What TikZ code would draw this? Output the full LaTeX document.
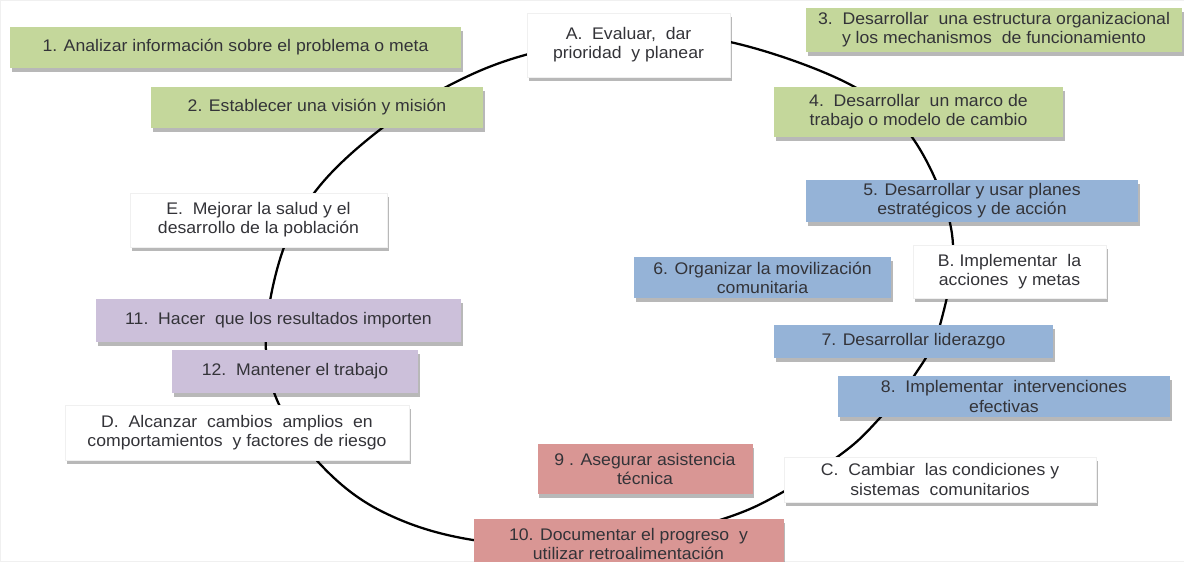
\documentclass[tikz,border=0pt]{standalone}
\usepackage{fontspec}
\setmainfont{Liberation Sans}[FakeStretch=1.05]
\usetikzlibrary{shadows}
\definecolor{gbox}{HTML}{C4D79B}
\definecolor{bbox}{HTML}{95B3D7}
\definecolor{pbox}{HTML}{CCC0DA}
\definecolor{rbox}{HTML}{D99694}
\definecolor{txt}{HTML}{333338}
\tikzset{
  card/.style 2 args={rectangle, inner sep=0pt, align=center, text=txt,
    minimum width=#1*0.75pt, minimum height=#2*0.75pt,
    font=\fontsize{12.6pt}{14.3pt}\selectfont,
    drop shadow={shadow xshift=1.2pt, shadow yshift=-3pt, fill=black, opacity=0.28}},
  green/.style={fill=gbox},
  blue/.style={fill=bbox},
  purple/.style={fill=pbox},
  red/.style={fill=rbox},
  white/.style={fill=white, draw=black!6},
  ring/.style={line width=1.7pt, black}
}
\begin{document}
\begin{tikzpicture}[x=0.75pt, y=-0.75pt]
\useasboundingbox (0,0) rectangle (1184,561);
\fill[white] (0,0) rectangle (1184,561);
% the cycle
\draw[ring] plot[smooth cycle, tension=0.6] coordinates {
  (266,335) (283,250) (318,188) (377,132) (448,86) (525,55) (628,36)
  (730,42) (851,85) (914,140) (952,234) (940,325) (914,376) (878,420)
  (844,452) (783,492) (723,519) (610,549) (473,540) (383,512) (321,465) (277,400)};
% boxes
\node[card={451}{41}, green] (n1) at (235.5,47.5) {1. Analizar información sobre el problema o meta};
\node[card={332}{41}, green] (n2) at (317,107.5) {2. Establecer una visión y misión};
\node[card={203}{64}, white] (nA) at (628.5,45) {A.\ \ Evaluar,\ \ dar\\prioridad\ \ y planear};
\node[card={376}{44}, green] (n3) at (994,30) {3.\ \ Desarrollar\ \ una estructura organizacional\\y los mechanismos\ \ de funcionamiento};
\node[card={289}{50}, green] (n4) at (918.5,112) {4.\ \ Desarrollar\ \ un marco de\\trabajo o modelo de cambio};
\node[card={257}{54}, white] (nE) at (258.5,220) {E.\ \ Mejorar la salud y el\\desarrollo de la población};
\node[card={332}{42}, blue] (n5) at (972,201) {5. Desarrollar y usar planes\\estratégicos y de acción};
\node[card={257}{41}, blue] (n6) at (762.5,277.5) {6. Organizar la movilización\\comunitaria};
\node[card={193}{53}, white] (nB) at (1009.5,271.5) {B. Implementar\ \ la\\acciones\ \ y metas};
\node[card={279}{33}, blue] (n7) at (913.5,341.5) {7. Desarrollar liderazgo};
\node[card={332}{41}, blue] (n8) at (1004,396.5) {8.\ \ Implementar\ \ intervenciones\\efectivas};
\node[card={365}{43}, purple] (n11) at (278.5,320.5) {11.\ \ Hacer\ \ que los resultados importen};
\node[card={246}{43}, purple] (n12) at (295,371.5) {12.\ \ Mantener el trabajo};
\node[card={344}{55}, white] (nD) at (237,432.5) {D.\ \ Alcanzar\ \ cambios\ \ amplios\ \ en\\comportamientos\ \ y factores de riesgo};
\node[card={215}{50}, red] (n9) at (645,469) {9 . Asegurar asistencia\\técnica};
\node[card={312}{45}, white] (nC) at (940,479.5) {C.\ \ Cambiar\ \ las condiciones y\\sistemas\ \ comunitarios};
\node[card={310}{50}, red] (n10) at (628.5,544) {10. Documentar el progreso\ \ y\\utilizar retroalimentación};
\end{tikzpicture}
\end{document}
